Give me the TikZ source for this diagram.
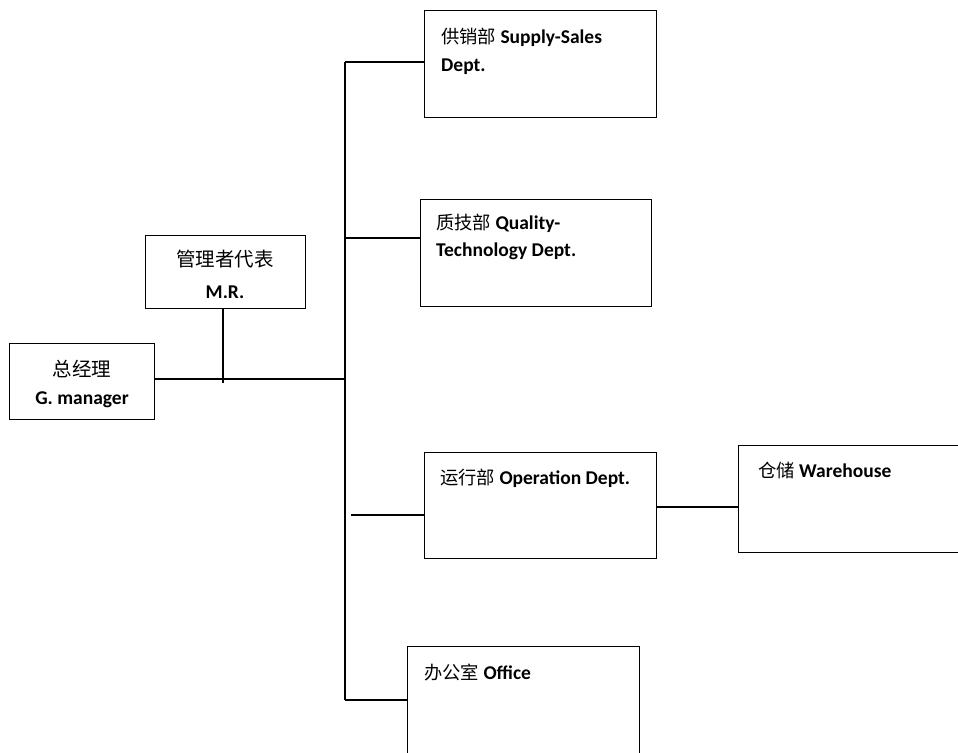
\documentclass[tikz,border=0pt]{standalone}
\usepackage{fontspec}
\setmainfont{Carlito}
\newfontfamily\cjk{Noto Sans CJK SC}
\newcommand{\zhbig}[1]{{\cjk\mdseries\fontsize{19.5}{23}\selectfont #1}}
\newcommand{\zhsm}[1]{{\cjk\mdseries\fontsize{18.3}{22}\selectfont #1}}
\begin{document}
\begin{tikzpicture}[x=1pt,y=-1pt,
  box/.style={draw=black, line width=1.2pt, fill=none, inner sep=0pt, anchor=north west},
  conn/.style={draw=black, line width=1.2pt},
  lbl/.style={inner sep=0pt, anchor=west, font=\fontsize{19.5}{23}\selectfont\bfseries},
  clbl/.style={inner sep=0pt, anchor=center, font=\fontsize{19.5}{23}\selectfont\bfseries}]
\useasboundingbox (0,0) rectangle (958,752);
% boxes
\node[box, minimum width=145pt, minimum height=76pt] (gm) at (9,343) {};
\node[box, minimum width=160pt, minimum height=73pt] (mr) at (145,235) {};
\node[box, minimum width=232pt, minimum height=107pt] (sup) at (424,10) {};
\node[box, minimum width=231pt, minimum height=107pt] (qual) at (420,199) {};
\node[box, minimum width=232pt, minimum height=106pt] (op) at (424,452) {};
\node[box, minimum width=240pt, minimum height=107pt] (wh) at (738,445) {};
\node[box, minimum width=232pt, minimum height=120pt] (off) at (407,646) {};
% texts
\node[clbl] (gmt1) at (82,369) {\zhbig{总经理}};
\node[clbl] (gmt2) at (82,400) {G. manager};
\node[clbl] (mrt1) at (225,259) {\zhbig{管理者代表}};
\node[clbl] (mrt2) at (225,292) {M.R.};
\node[lbl] (supt1) at (441,37) {\zhsm{供销部} Supply-Sales};
\node[lbl] (supt2) at (441,67) {Dept.};
\node[lbl] (qualt1) at (436,223) {\zhsm{质技部} Quality-};
\node[lbl] (qualt2) at (436,251) {Technology Dept.};
\node[lbl] (opt) at (440,478) {\zhsm{运行部} Operation Dept.};
\node[lbl] (wht) at (758,470) {\zhsm{仓储} Warehouse};
\node[lbl] (offt) at (424,672) {\zhsm{办公室} Office};
% connectors
\coordinate (tTop) at (345,62);
\coordinate (tQual) at (345,238);
\coordinate (tMid) at (345,379);
\coordinate (tOp) at (351,515);
\coordinate (tBot) at (345,700);
\coordinate (mrJoin) at (223,383);
\draw[conn] (tTop) -- (tBot);
\draw[conn] (tTop) -- (sup.west |- tTop);
\draw[conn] (tQual) -- (qual.west |- tQual);
\draw[conn] (tOp) -- (op.west |- tOp);
\draw[conn] (tBot) -- (off.west |- tBot);
\draw[conn] (gm.east |- tMid) -- (tMid);
\draw[conn] (mr.south -| mrJoin) -- (mrJoin);
\draw[conn] (op.east |- 0,507) -- (wh.west |- 0,507);
\end{tikzpicture}
\end{document}
